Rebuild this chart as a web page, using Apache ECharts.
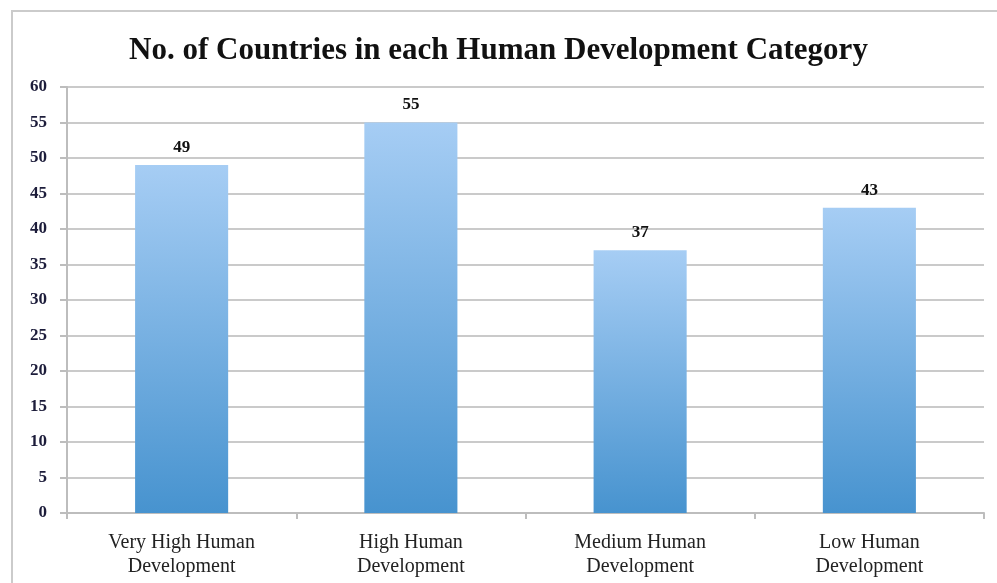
<!DOCTYPE html>
<html><head><meta charset="utf-8">
<script src="https://cdn.jsdelivr.net/npm/echarts@6/dist/echarts.min.js"></script>
<style>html,body{margin:0;padding:0;background:#fff}#c{width:997px;height:583px}</style>
</head><body><div id="c"></div>
<script>
const title = "No. of Countries in each Human Development Category";
const categories = ["Very High Human\nDevelopment", "High Human\nDevelopment", "Medium Human\nDevelopment", "Low Human\nDevelopment"];
const values = [49, 55, 37, 43];
const yMin = 0, yMax = 60, yStep = 5;

const chart = echarts.init(document.getElementById('c'), null, {renderer: 'canvas'});
const serif = '"Liberation Serif", "DejaVu Serif", serif';
chart.setOption({
  animation: false,
  backgroundColor: '#fff',
  title: {
    text: title, left: 'center', top: 30,
    textStyle: {fontFamily: serif, fontWeight: 'bold', fontSize: 31, color: '#111'}
  },
  graphic: [{
    type: 'rect', shape: {x: 12, y: 11, width: 1000, height: 600},
    style: {fill: 'none', stroke: '#cbcbcb', lineWidth: 2}, silent: true
  }],
  grid: {left: 67, right: 13, top: 87, bottom: 70, containLabel: false},
  xAxis: {
    type: 'category', data: categories,
    axisLine: {lineStyle: {color: '#bdbdbd', width: 2}},
    axisTick: {show: true, length: 6, lineStyle: {color: '#bdbdbd', width: 2}},
    axisLabel: {fontFamily: serif, fontSize: 20, color: '#222', lineHeight: 24, margin: 18}
  },
  yAxis: {
    type: 'value', min: yMin, max: yMax, interval: yStep,
    axisLine: {show: true, lineStyle: {color: '#bdbdbd', width: 2}},
    axisTick: {show: true, length: 7, lineStyle: {color: '#bdbdbd', width: 2}},
    splitLine: {lineStyle: {color: '#cacaca', width: 2}},
    axisLabel: {fontFamily: serif, fontWeight: 'bold', fontSize: 17, color: '#1c1c3a', margin: 20}
  },
  series: [{
    type: 'bar', data: values, barWidth: '40.6%',
    itemStyle: {
      color: new echarts.graphic.LinearGradient(0, 0, 0, 1, [
        {offset: 0, color: '#a6cdf4'},
        {offset: 1, color: '#4793cf'}
      ])
    },
    label: {show: true, position: 'top', distance: 9,
      fontFamily: serif, fontWeight: 'bold', fontSize: 17, color: '#111'}
  }]
});
</script></body></html>
